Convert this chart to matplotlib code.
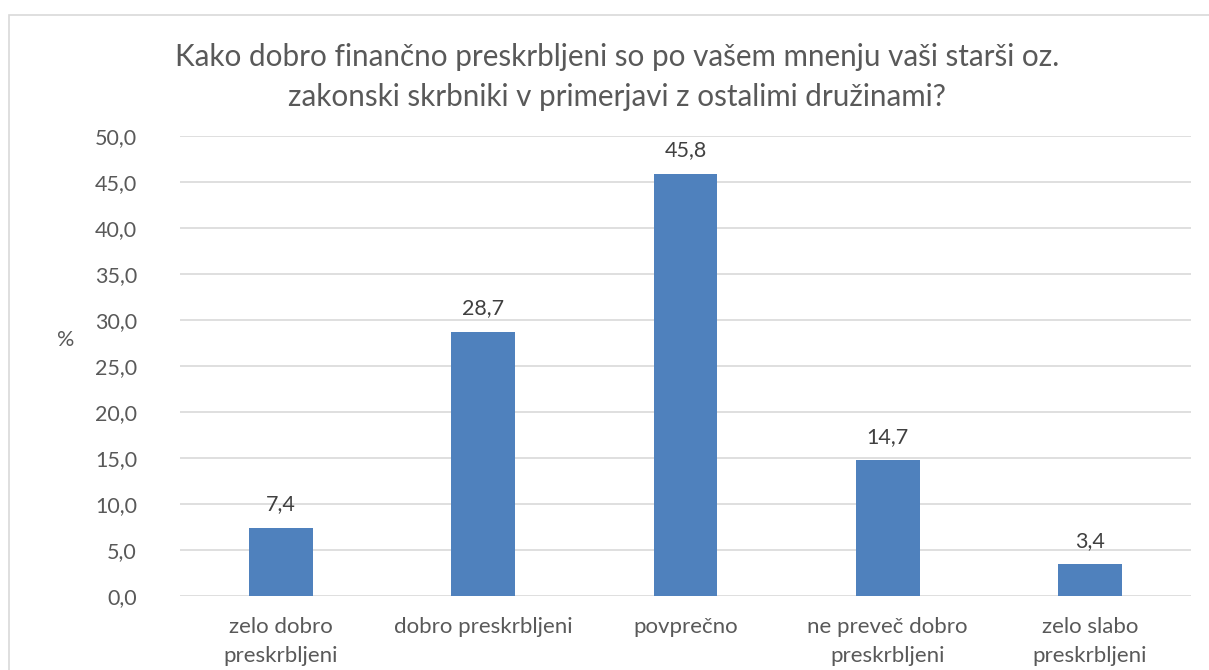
import matplotlib
matplotlib.use("Agg")
import matplotlib.pyplot as plt
from matplotlib.patches import Rectangle

categories = ["zelo dobro\npreskrbljeni", "dobro preskrbljeni", "povprečno",
              "ne preveč dobro\npreskrbljeni", "zelo slabo\npreskrbljeni"]
values = [7.4, 28.7, 45.8, 14.7, 3.4]
yticks = [0, 5, 10, 15, 20, 25, 30, 35, 40, 45, 50]
title = ("Kako dobro finančno preskrbljeni so po vašem mnenju vaši starši oz.\n"
         "zakonski skrbniki v primerjavi z ostalimi družinami?")

plt.rcParams['font.family'] = ['Lato', 'DejaVu Sans']

fig = plt.figure(figsize=(12.09, 6.7), dpi=100)
ax = fig.add_axes([180/1209, 1 - 595.7/670, (1191 - 180)/1209, (595.7 - 135.7)/670])

# chart border
fig.patches.append(Rectangle((9/1209, -0.1), 1.2, 1 - 15/670 + 0.1, transform=fig.transFigure,
                             fill=False, edgecolor="#D9D9D9", linewidth=1.2))

x = list(range(len(categories)))
ax.bar(x, values, width=0.315, color="#4F81BD", zorder=3)
for xi, v in zip(x, values):
    ax.text(xi, v + 1.5, f"{v:.1f}".replace(".", ","), ha="center", va="bottom",
            fontsize=15.5, color="#404040")

ax.set_xlim(-0.5, len(categories) - 0.5)
ax.set_ylim(0, 50)
ax.set_yticks(yticks)
ax.set_yticklabels([f"{t:.1f}".replace(".", ",") for t in yticks], fontsize=15.5, color="#595959")
ax.set_xticks(x)
ax.set_xticklabels(categories, fontsize=16, color="#595959", linespacing=1.6)
ax.tick_params(length=0, axis="y", pad=31)
ax.tick_params(length=0, axis="x", pad=15)
ax.grid(axis="y", color="#D9D9D9", linewidth=1.2, zorder=0)
for s in ax.spines.values():
    s.set_visible(False)

fig.text(66/1209, 1 - 340/670, "%", fontsize=15.5, color="#595959", ha="center", va="center")
fig.text(617/1209, 1 - 77/670, title, fontsize=21.3, color="#595959", ha="center", va="center",
         linespacing=1.5)

fig.savefig("out.png", dpi=100)
